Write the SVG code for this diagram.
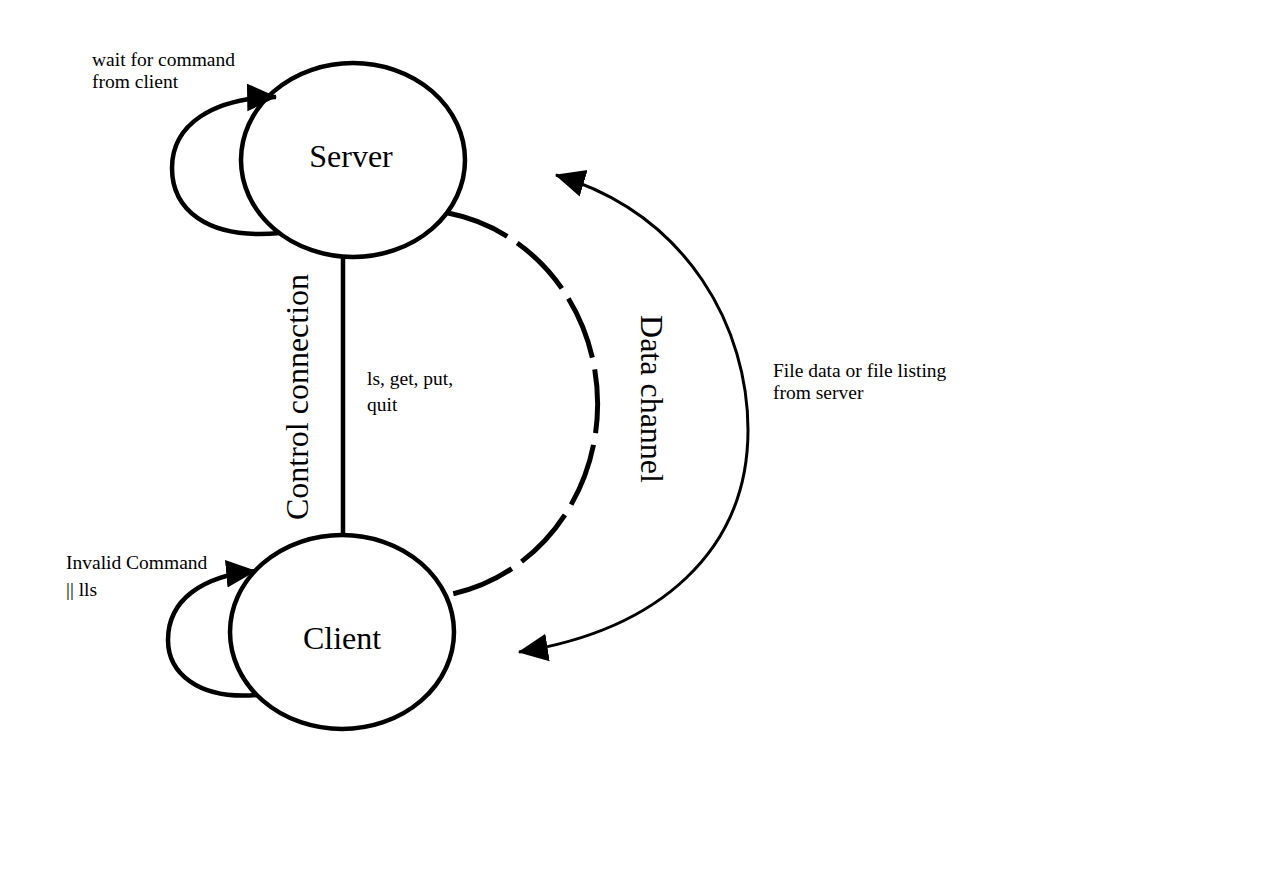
<svg xmlns="http://www.w3.org/2000/svg" width="1262" height="889" viewBox="0 0 1262 889">
<style>
.node{fill:none;stroke:#000;stroke-width:4.5}
.big{font-family:"Liberation Serif","Times New Roman",serif;font-size:32px;fill:#000}
.small{font-family:"Liberation Serif","Times New Roman",serif;font-size:19.5px;fill:#000}
.conn{fill:none;stroke:#000}
</style>
<defs>
<marker id="ah" markerUnits="userSpaceOnUse" markerWidth="30" markerHeight="30" viewBox="0 0 26 24" refX="25" refY="12" orient="auto-start-reverse">
<path d="M0,0 L26,12 L0,24 Z" fill="#000"/>
</marker>
</defs>
<rect width="1262" height="889" fill="#fff"/>
<g id="connectors">
<path id="server-loop" class="conn" stroke-width="4.5" d="M 280 233 C 205 240 172 208 172 168 C 172 125 212 98 276 97" marker-end="url(#ah)"/>
<path id="client-loop" class="conn" stroke-width="4.5" d="M 257 695 C 197 700 168 672 168 640 C 168 600 202 576 255 571" marker-end="url(#ah)"/>
<line id="control" class="conn" stroke-width="4.5" x1="343" y1="258" x2="343" y2="537"/>
<path id="data-channel" class="conn" stroke-width="5" stroke-dasharray="64 12" d="M 448 213 A 182 194 0 0 1 447 595"/>
<path id="file-data" class="conn" stroke-width="3" d="M 556 175 C 690 215 748 330 748 430 C 748 550 660 630 519 652" marker-start="url(#ah)" marker-end="url(#ah)"/>
</g>
<g id="server">
<ellipse class="node" cx="353" cy="160" rx="112" ry="97"/>
<text class="big" x="351" y="167" text-anchor="middle">Server</text>
</g>
<g id="client">
<ellipse class="node" cx="342" cy="632" rx="112" ry="97"/>
<text class="big" x="342" y="649" text-anchor="middle">Client</text>
</g>
<g id="labels">
<text class="small" x="92" y="66">wait for command</text>
<text class="small" x="92" y="88">from client</text>
<text class="small" x="66" y="569">Invalid Command</text>
<text class="small" x="66" y="596">|| lls</text>
<text class="small" x="367" y="385">ls, get, put,</text>
<text class="small" x="367" y="411">quit</text>
<text class="small" x="773" y="377">File data or file listing</text>
<text class="small" x="773" y="399">from server</text>
<text class="big" transform="translate(308 397) rotate(-90)" text-anchor="middle">Control connection</text>
<text class="big" transform="translate(641 399) rotate(90)" text-anchor="middle">Data channel</text>
</g>
</svg>
